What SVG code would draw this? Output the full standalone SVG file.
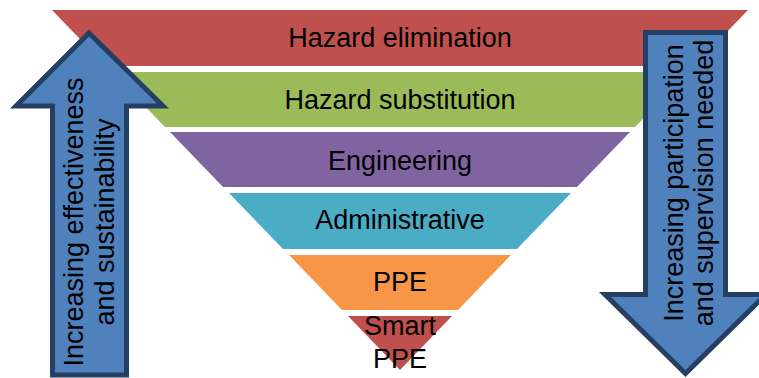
<svg xmlns="http://www.w3.org/2000/svg" width="759" height="378" viewBox="0 0 759 378">
  <style>
    .lbl { font-family: "Liberation Sans", Arial, sans-serif; font-size: 27px; fill: #000; text-anchor: middle; }
    .arrow { fill: #4F81BD; stroke: #253F62; stroke-width: 5; stroke-linejoin: miter; }
  </style>

  <!-- Hierarchy of controls: inverted pyramid, apex at (400,370) -->
  <g id="layer-elimination">
    <polygon points="52,10 748,10 694,66 106,66" fill="#C0504D"/>
    <text class="lbl" x="400" y="47">Hazard elimination</text>
  </g>
  <g id="layer-substitution">
    <polygon points="112,72 688,72 635,127 165,127" fill="#9BBB59"/>
    <text class="lbl" x="400" y="108.5">Hazard substitution</text>
  </g>
  <g id="layer-engineering">
    <polygon points="170,132 630,132 577,187 223,187" fill="#8064A2"/>
    <text class="lbl" x="400" y="170">Engineering</text>
  </g>
  <g id="layer-administrative">
    <polygon points="229,193 571,193 517,249 283,249" fill="#4BACC6"/>
    <text class="lbl" x="400" y="229">Administrative</text>
  </g>
  <g id="layer-ppe">
    <polygon points="289,255 511,255 458,310 342,310" fill="#F79646"/>
    <text class="lbl" x="400" y="291">PPE</text>
  </g>
  <g id="layer-smart-ppe">
    <polygon points="348,316 452,316 400,370" fill="#C0504D"/>
    <text class="lbl" x="400" y="335">Smart</text>
    <text class="lbl" x="400" y="368">PPE</text>
  </g>

  <!-- Side arrows -->
  <g id="arrow-effectiveness">
    <path class="arrow" d="M89,33 L163,106 L126.5,106 L126.5,375 L52.5,375 L52.5,106 L16,106 Z"/>
    <g transform="translate(83,222) rotate(-90)">
      <text class="lbl" x="0" y="0">Increasing effectiveness</text>
      <text class="lbl" x="0" y="31">and sustainability</text>
    </g>
  </g>
  <g id="arrow-participation">
    <path class="arrow" d="M645.5,32.5 L725.5,32.5 L725.5,294.5 L766,294.5 L685.5,373.5 L605,294.5 L645.5,294.5 Z"/>
    <g transform="translate(683,183) rotate(-90)">
      <text class="lbl" x="0" y="0">Increasing participation</text>
      <text class="lbl" x="0" y="30">and supervision needed</text>
    </g>
  </g>
</svg>
